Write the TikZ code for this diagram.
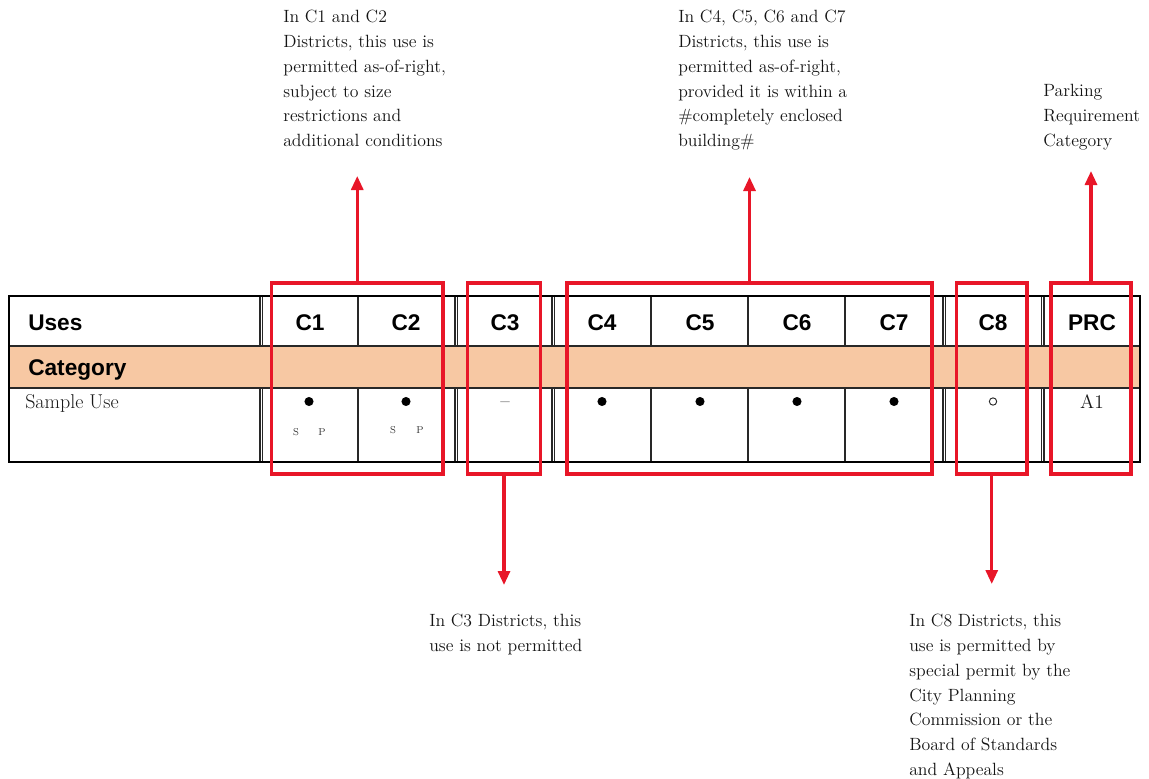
\documentclass[tikz,border=0pt]{standalone}
\usepackage{fontspec}
\newfontfamily\hdfont{Liberation Sans}
\usetikzlibrary{arrows.meta,fit}
\definecolor{catfill}{RGB}{247,200,163}
\definecolor{annred}{RGB}{232,22,40}
\definecolor{gridgray}{RGB}{40,40,40}
\begin{document}
\begin{tikzpicture}[x=0.75pt,y=-0.75pt,
  note/.style={inner sep=0pt,anchor=north west,align=left,font=\fontsize{13.3}{18.6}\selectfont,text=black!92},
  hdr/.style={inner sep=0pt,anchor=base,font=\hdfont\bfseries\fontsize{17}{20}\selectfont},
  hdrw/.style={hdr,anchor=base west},
  cell/.style={inner sep=0pt,anchor=base,font=\fontsize{14.5}{17}\selectfont,text=black!90},
  tiny/.style={inner sep=0pt,anchor=base,font=\fontsize{7.5}{8}\selectfont,text=black!80},
  dotfull/.style={circle,fill=black,inner sep=0pt,minimum size=6.8pt},
  dotopen/.style={circle,draw=black!85,line width=0.7pt,inner sep=0pt,minimum size=5.5pt},
  redbox/.style={draw=annred,line width=2.3pt,inner sep=0pt},
  redarrow/.style={draw=annred,line width=2.3pt,-{Triangle[length=10.5pt,width=9pt]}},
  outer/.style={draw=black,line width=1.5pt},
  inner/.style={draw=gridgray,line width=0.8pt}]
\useasboundingbox (0,0) rectangle (1149,778);

% table
\fill[catfill] (8.5,346) rectangle (1140,388);
\draw[inner] (8.5,346) -- (1140,346);
\draw[inner] (8.5,388) -- (1140,388);
\foreach \xx in {260,262.5,358,455,457.5,552,554.5,651,748,845,943,945.5,1041.5,1044}{
  \draw[inner] (\xx,295.5) -- (\xx,346);
  \draw[inner] (\xx,388) -- (\xx,461.5);
}
\draw[outer] (8.5,295.5) rectangle (1140,461.5);

% header texts
\node[hdrw] (huses) at (28,330) {Uses};
\node[hdr] (hc1) at (310,330) {C1};
\node[hdr] (hc2) at (406,330) {C2};
\node[hdr] (hc3) at (505,330) {C3};
\node[hdr] (hc4) at (602,330) {C4};
\node[hdr] (hc5) at (700,330) {C5};
\node[hdr] (hc6) at (797,330) {C6};
\node[hdr] (hc7) at (894,330) {C7};
\node[hdr] (hc8) at (993,330) {C8};
\node[hdr] (hprc) at (1092,330) {PRC};
\node[hdrw] (hcat) at (28,375) {Category};

% body
\node[cell,anchor=base west,font=\fontsize{15}{17}\selectfont] (samp) at (25,408) {Sample Use};
\node[dotfull] (d1) at (309,401.5) {};
\node[dotfull] (d2) at (406,401.5) {};
\node[dotfull] (d4) at (602,401.5) {};
\node[dotfull] (d5) at (700,401.5) {};
\node[dotfull] (d6) at (797,401.5) {};
\node[dotfull] (d7) at (894,401.5) {};
\node[dotopen] (d8) at (993,401.5) {};
\node[cell] (dash3) at (505,407) {–};
\node[cell] (a1) at (1092,408) {A1};
\node[tiny] (s1) at (296,435) {S};
\node[tiny] (p1) at (322,435) {P};
\node[tiny] (s2) at (393,433) {S};
\node[tiny] (p2) at (420,433) {P};

% red boxes
\node[redbox,fit={(271.5,283) (443,474)}] (b12) {};
\node[redbox,fit={(467.5,283) (540.5,474)}] (b3) {};
\node[redbox,fit={(567,283) (932,474)}] (b47) {};
\node[redbox,fit={(956.5,283) (1027,474)}] (b8) {};
\node[redbox,fit={(1051,283) (1131,474)}] (bprc) {};

% arrow ends
\coordinate (e12) at (357.25,176);
\coordinate (e47) at (749.5,177);
\coordinate (eprc) at (1091,171);
\coordinate (e3) at (504,585);
\coordinate (e8) at (991.75,584);

\draw[redarrow] (b12.north) -- (e12);
\draw[redarrow] (b47.north) -- (e47);
\draw[redarrow] (bprc.north) -- (eprc);
\draw[redarrow] (b3.south) -- (e3);
\draw[redarrow] (b8.south) -- (e8);

% annotations
\node[note] (n12) at (283,10) {In C1 and C2\\Districts, this use is\\permitted as-of-right,\\subject to size\\restrictions and\\additional conditions};
\node[note] (n47) at (678,10) {In C4, C5, C6 and C7\\Districts, this use is\\permitted as-of-right,\\provided it is within a\\\#completely enclosed\\building\#};
\node[note] (nprc) at (1043,84) {Parking\\Requirement\\Category};
\node[note] (n3) at (429,614) {In C3 Districts, this\\use is not permitted};
\node[note] (n8) at (909,614) {In C8 Districts, this\\use is permitted by\\special permit by the\\City Planning\\Commission or the\\Board of Standards\\and Appeals};
\end{tikzpicture}
\end{document}
